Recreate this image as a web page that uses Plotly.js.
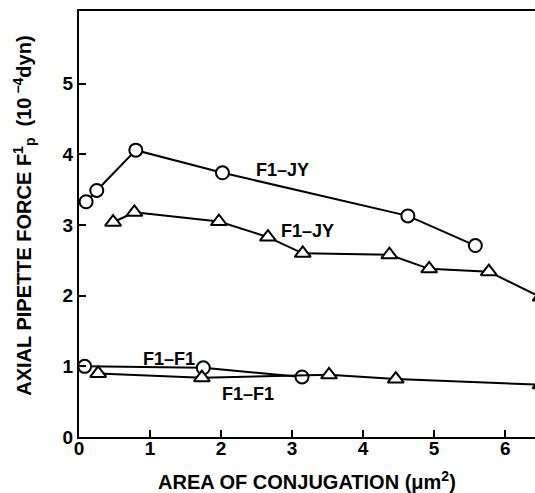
<!DOCTYPE html>
<html>
<head>
<meta charset="utf-8">
<script src="https://cdn.plot.ly/plotly-3.0.1.min.js"></script>
<style>html,body{margin:0;padding:0;background:#fff;}#chart{width:535px;height:493px;}</style>
</head>
<body>
<div id="chart"></div>
<script>
// F1-JY, circles
var jyCircleX = [0.10, 0.25, 0.80, 2.02, 4.63, 5.58];
var jyCircleY = [3.33, 3.49, 4.06, 3.74, 3.13, 2.71];
// F1-JY, triangles
var jyTriX = [0.48, 0.78, 1.97, 2.66, 3.15, 4.37, 4.93, 5.77, 6.50];
var jyTriY = [3.04, 3.18, 3.05, 2.83, 2.60, 2.58, 2.38, 2.34, 1.98];
// F1-F1, circles
var ffCircleX = [0.08, 1.75, 3.14];
var ffCircleY = [1.00, 0.98, 0.85];
// F1-F1, triangles
var ffTriX = [0.27, 1.73, 3.52, 4.46, 6.50];
var ffTriY = [0.90, 0.84, 0.88, 0.82, 0.74];
var xTickVals = [0, 1, 2, 3, 4, 5, 6];
var yTickVals = [0, 1, 2, 3, 4, 5];
var labels = ["F1\u2013JY", "F1\u2013JY", "F1\u2013F1", "F1\u2013F1"];
var labelX = [2.86, 3.21, 1.27, 2.38];
var labelY = [3.78, 2.92, 1.10, 0.61];

var fam = "Liberation Sans, Arial, sans-serif";
function f(size) { return {family: fam, size: size, color: "#000", weight: "bold"}; }
function trace(x, y, sym, size) {
  return {
    x: x, y: y, type: "scatter", mode: "lines+markers", cliponaxis: true,
    line: {color: "#000", width: 2},
    marker: {symbol: sym, size: size, color: "#fff", line: {color: "#000", width: 2}},
    showlegend: false, hoverinfo: "skip"
  };
}
var data = [
  trace(jyCircleX, jyCircleY, "circle", 13),
  trace(jyTriX, jyTriY, "triangle-up", 14),
  trace(ffCircleX, ffCircleY, "circle", 13),
  trace(ffTriX, ffTriY, "triangle-up", 14)
];

var annotations = labels.map(function(t, i) {
  return {text: t, xref: "x", yref: "y", x: labelX[i], y: labelY[i], showarrow: false, font: f(18)};
});
annotations.push({
  text: "AXIAL PIPETTE FORCE F<sup>1</sup><sub>p</sub>  (10<sup> \u22124</sup>dyn)", textangle: -90,
  xref: "paper", yref: "paper", x: -0.12, y: 0.52, xanchor: "center", yanchor: "middle",
  showarrow: false, font: f(20)
});
annotations.push({
  text: "AREA OF CONJUGATION (\u03bcm<sup>2</sup>)",
  xref: "paper", yref: "paper", x: 0.5, y: -0.103, xanchor: "center", yanchor: "middle",
  showarrow: false, font: f(20)
});

var layout = {
  width: 535, height: 493,
  margin: {l: 79, r: 0, t: 11, b: 56},
  paper_bgcolor: "#fff", plot_bgcolor: "#fff",
  font: f(14),
  xaxis: {
    range: [0, 6.42], tickvals: xTickVals, ticks: "inside", ticklen: 7, tickwidth: 2,
    tickcolor: "#000", showline: true, linecolor: "#000", linewidth: 2, mirror: true,
    showgrid: false, zeroline: false, tickfont: f(19), automargin: false,
    ticklabelstandoff: -7
  },
  yaxis: {
    range: [0, 6.03], tickvals: yTickVals, ticks: "inside", ticklen: 7, tickwidth: 2,
    tickcolor: "#000", showline: true, linecolor: "#000", linewidth: 2, mirror: false,
    showgrid: false, zeroline: false, tickfont: f(19), automargin: false
  },
  annotations: annotations
};
Plotly.newPlot("chart", data, layout, {displayModeBar: false, staticPlot: true});
</script>
</body>
</html>
